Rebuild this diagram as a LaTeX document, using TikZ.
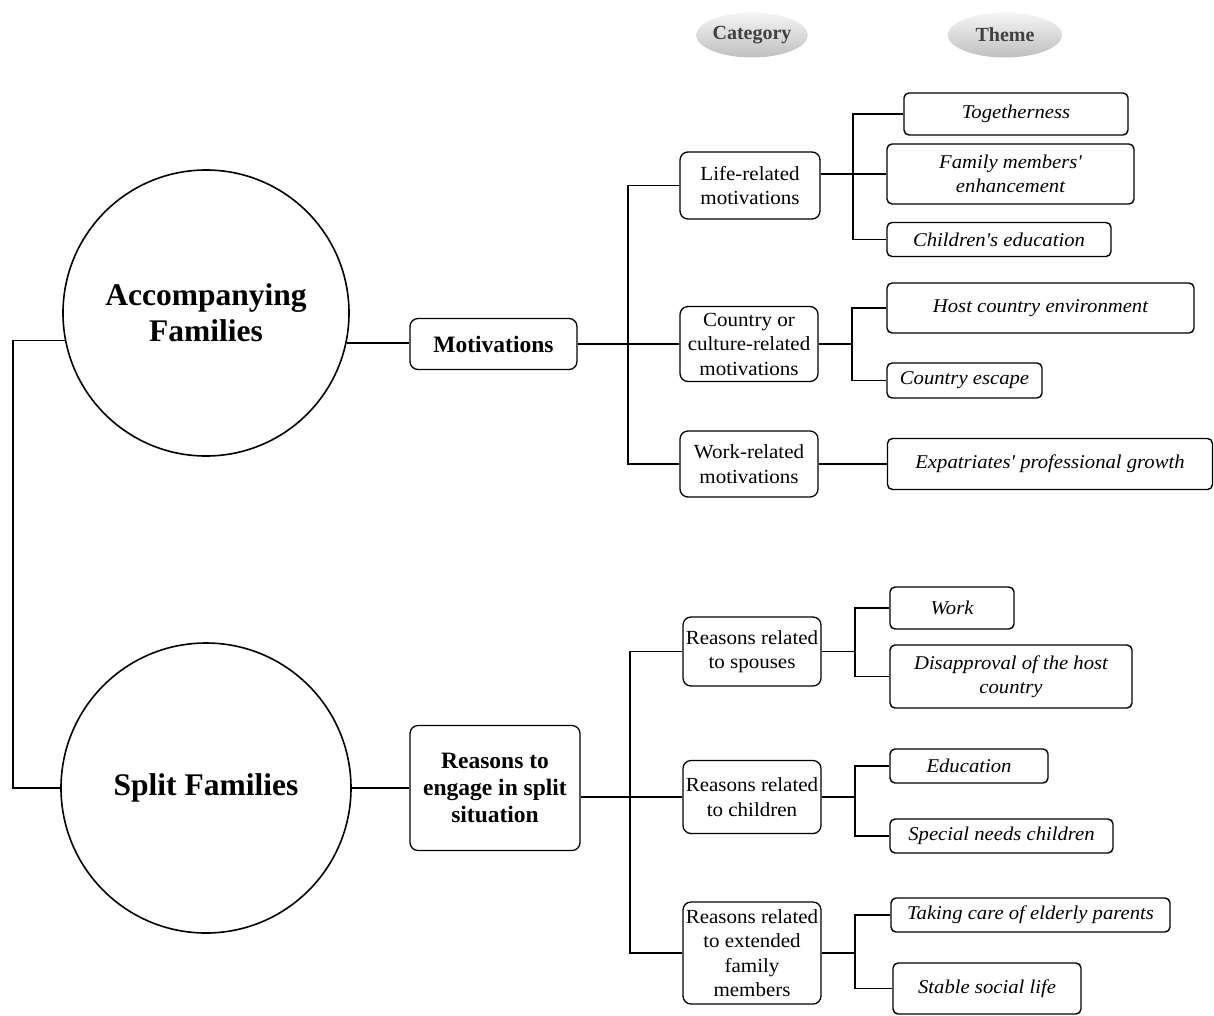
\documentclass[tikz,border=0pt]{standalone}
\usepackage{fontspec}
\setmainfont{Liberation Serif}
\newfontfamily\catfont[FakeStretch=1.05]{Liberation Serif}
\newfontfamily\themefont[FakeStretch=1.06]{Liberation Serif}
\usetikzlibrary{shapes.geometric}
\begin{document}
\begin{tikzpicture}[x=1pt,y=-1pt,
  line width=1.1pt,
  mainnode/.style={circle,draw,line width=1.6pt,inner sep=0pt,align=center,
    font=\fontsize{31.5}{36}\selectfont\bfseries},
  groupbox/.style={draw,rounded corners=8pt,line width=1.3pt,inner sep=0pt,align=center,
    font=\fontsize{23.5}{27}\selectfont\bfseries},
  catbox/.style={draw,rounded corners=8pt,line width=1.3pt,inner sep=0pt,align=center,
    font=\catfont\fontsize{20}{24.5}\selectfont},
  themebox/.style={draw,rounded corners=5pt,line width=1.4pt,inner sep=0pt,align=center,
    font=\themefont\itshape\fontsize{19.5}{24}\selectfont},
  headoval/.style={ellipse,inner sep=0pt,top color=gray!8,bottom color=gray!50,
    text=black!75,font=\fontsize{20}{24}\selectfont\bfseries},
  link/.style={line width=1.3pt}]

\useasboundingbox (0,0) rectangle (1214,1015);

% column headings
\node[headoval,minimum width=110,minimum height=45] (cat) at (752,35) {\raisebox{-2pt}{Category}};
\node[headoval,minimum width=114,minimum height=45] (thm) at (1005,35) {\raisebox{-2pt}{Theme}};

% family types
\node[mainnode,minimum size=286] (acc) at (206,313) {Accompanying\\Families};
\node[mainnode,minimum size=290] (spl) at (206,788) {Split Families};

% first level
\node[groupbox,minimum width=167,minimum height=51] (mot) at (493.5,344) {Motivations};
\node[groupbox,minimum width=170,minimum height=125] (rsn) at (495,788) {Reasons to\\engage in split\\situation};

% categories: accompanying families
\node[catbox,minimum width=140,minimum height=67] (life) at (750,185.5) {Life-related\\motivations};
\node[catbox,minimum width=138,minimum height=75] (ctry) at (749,344) {Country or\\culture-related\\motivations};
\node[catbox,minimum width=138,minimum height=66] (work) at (749,464) {Work-related\\motivations};

% categories: split families
\node[catbox,minimum width=138,minimum height=69] (sps) at (752,651.5) {Reasons related\\to spouses};
\node[catbox,minimum width=138,minimum height=73] (chd) at (752,797) {Reasons related\\to children};
\node[catbox,minimum width=138,minimum height=102] (ext) at (752,953) {Reasons related\\to extended\\family\\members};

% themes: accompanying families
\node[themebox,minimum width=224,minimum height=42] (tog) at (1016,114) {Togetherness};
\node[themebox,minimum width=247,minimum height=60] (fam) at (1010.5,174) {Family members'\\enhancement};
\node[themebox,minimum width=224,minimum height=34] (chi) at (999,239.5) {Children's education};
\node[themebox,minimum width=307,minimum height=50] (host) at (1040.5,308) {Host country environment};
\node[themebox,minimum width=155,minimum height=35] (esc) at (964.5,380.5) {Country escape};
\node[themebox,minimum width=325,minimum height=51] (exp) at (1050,464) {Expatriates' professional growth};

% themes: split families
\node[themebox,minimum width=124,minimum height=42] (wk) at (952,608) {Work};
\node[themebox,minimum width=242,minimum height=63] (dis) at (1011,676.5) {Disapproval of the host\\country};
\node[themebox,minimum width=158,minimum height=34] (edu) at (969,766) {Education};
\node[themebox,minimum width=223,minimum height=34] (spc) at (1001.5,836) {Special needs children};
\node[themebox,minimum width=279,minimum height=34] (tak) at (1030.5,915) {Taking care of elderly parents};
\node[themebox,minimum width=188,minimum height=51] (stb) at (987,988.5) {Stable social life};

% spine positions
\coordinate (rootx) at (13,0);
\coordinate (s1) at (628,0);
\coordinate (s2) at (630,0);
\coordinate (b1) at (853,0);
\coordinate (b2) at (852,0);
\coordinate (b3) at (855,0);

% family types joined on the left
\draw[link] (acc.191) -- (acc.191 -| rootx) |- (spl.west);

% family types to first level
\draw[link] (acc.-12.4) -- (acc.-12.4 -| mot.west);
\draw[link] (spl.east) -- (rsn.west);

% first level to categories
\draw[link] (mot.east) -- (ctry.west);
\draw[link] (life.west) -- (life.west -| s1) |- (work.west);
\draw[link] (rsn.east |- chd.west) -- (chd.west);
\draw[link] (sps.west) -- (sps.west -| s2) |- (ext.west);

% categories to themes
\draw[link] (fam.west -| life.east) -- (fam.west);
\draw[link] (tog.west) -- (tog.west -| b1) |- (chi.west);
\draw[link] (ctry.east) -- (ctry.east -| b2);
\draw[link] (host.west) -- (host.west -| b2) |- (esc.west);
\draw[link] (work.east) -- (exp.west);
\draw[link] (sps.east) -- (sps.east -| b3);
\draw[link] (wk.west) -- (wk.west -| b3) |- (dis.west);
\draw[link] (chd.east) -- (chd.east -| b3);
\draw[link] (edu.west) -- (edu.west -| b3) |- (spc.west);
\draw[link] (ext.east) -- (ext.east -| b3);
\draw[link] (tak.west) -- (tak.west -| b3) |- (stb.west);
\end{tikzpicture}
\end{document}
